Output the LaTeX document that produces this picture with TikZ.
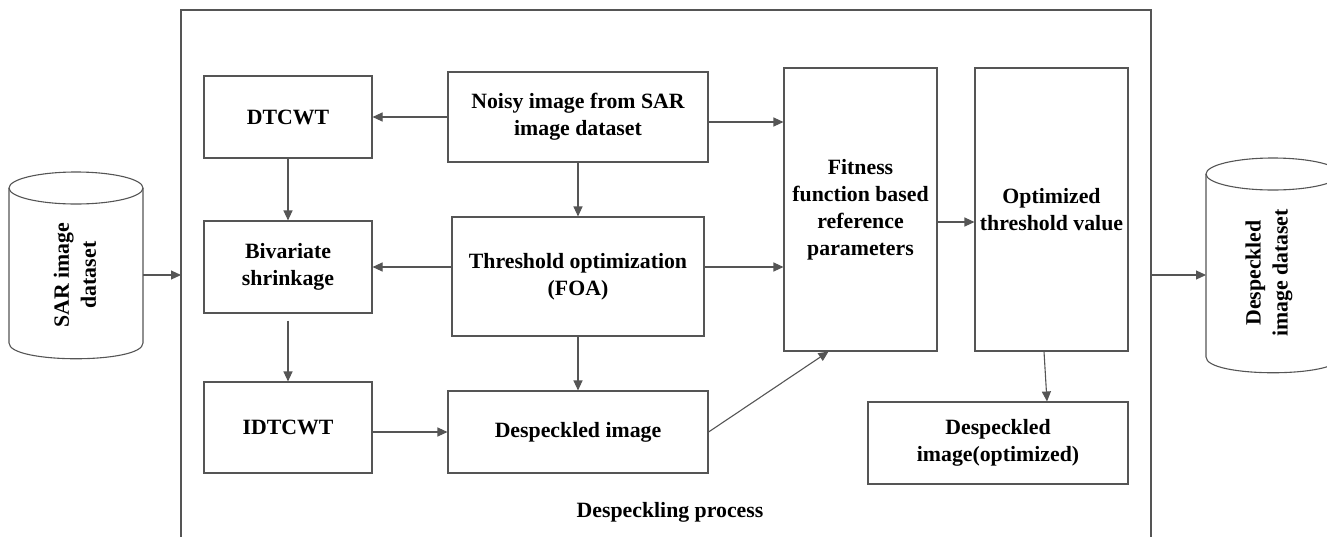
\documentclass[tikz,border=0pt]{standalone}
\usepackage{fontspec}
\setmainfont{Liberation Serif}
\usetikzlibrary{arrows.meta}
\definecolor{linegray}{HTML}{555555}
\begin{document}
\begin{tikzpicture}[x=1pt,y=-1pt,font=\bfseries\fontsize{21.8}{27}\selectfont]
\tikzstyle{block} = [draw=linegray, line width=1.1pt, align=center, inner sep=2pt] % box style
\tikzstyle{arr} = [draw=linegray, line width=1.1pt, -{Triangle[length=10pt,width=9pt]}] % connector style
\tikzstyle{line} = [draw=linegray, line width=1.1pt] % plain lines
\useasboundingbox (0,0) rectangle (1327,536);

% рамка процесса
\draw[line] (181,545) -- (181,10) -- (1151,10) -- (1151,545);
\node (proc) at (670,512) {Despeckling process};

% цилиндры
\draw[line] (76,188) ellipse[x radius=67, y radius=16];
\draw[line] (9,188) -- (9,343) .. controls (9,364) and (143,364) .. (143,343) -- (143,188);
\node[rotate=90, align=center] (sar) at (75,275) {SAR image\\dataset};
\draw[line] (1273,174) ellipse[x radius=67, y radius=16];
\draw[line] (1206,174) -- (1206,357) .. controls (1206,378) and (1340,378) .. (1340,357) -- (1340,174);
\node[rotate=90, align=center] (out) at (1269,273) {Despeckled\\image dataset};
\coordinate (sarR) at (143,275);
\coordinate (inL) at (181,275);
\coordinate (outR) at (1151,275);
\coordinate (outL) at (1206,275);

% блоки
\node[block, minimum width=168pt, minimum height=82pt] (dtcwt) at (288,117) {DTCWT};
\node[block, minimum width=260pt, minimum height=90pt] (noisy) at (578,117) {Noisy image from SAR\\image dataset};
\node[block, minimum width=153pt, minimum height=283pt] (fit) at (860.5,209.5) {Fitness\\function based\\reference\\parameters};
\node[block, minimum width=153pt, minimum height=283pt] (opt) at (1051.5,209.5) {Optimized\\threshold value};
\node[block, minimum width=168pt, minimum height=92pt] (biv) at (288,267) {Bivariate\\shrinkage};
\node[block, minimum width=252pt, minimum height=119pt] (thr) at (578,276.5) {Threshold optimization\\(FOA)};
\node[block, minimum width=168pt, minimum height=91pt] (idt) at (288,427.5) {IDTCWT};
\node[block, minimum width=260pt, minimum height=82pt] (desp) at (578,432) {Despeckled image};
\node[block, minimum width=260pt, minimum height=82pt] (dopt) at (998,443) {Despeckled\\image(optimized)};

% связи
\draw[arr] (sarR) -- (inL);
\draw[arr] (outR) -- (outL);
\draw[arr] (noisy.west) -- (dtcwt.east);
\draw[arr] ([yshift=-5pt]noisy.east) -- ([yshift=-5pt]noisy.east -| fit.west);
\draw[arr] (noisy.south) -- (thr.north);
\draw[arr] (dtcwt.south) -- (biv.north);
\draw[arr] (biv.east -| thr.west) -- (biv.east);
\draw[arr] (biv.east -| thr.east) -- (biv.east -| fit.west);
\draw[arr] ([yshift=-7pt]biv.south) -- (idt.north);
\draw[arr] (thr.south) -- (desp.north);
\draw[arr] (desp.west -| idt.east) -- (desp.west);
\draw[arr] (desp.east) -- ([xshift=-32pt]fit.south);
\draw[arr] ([yshift=-12.5pt]fit.east) -- ([yshift=-12.5pt]fit.east -| opt.west);
\draw[arr] ([xshift=-7.5pt]opt.south) -- ([xshift=49pt]dopt.north);
\end{tikzpicture}
\end{document}
